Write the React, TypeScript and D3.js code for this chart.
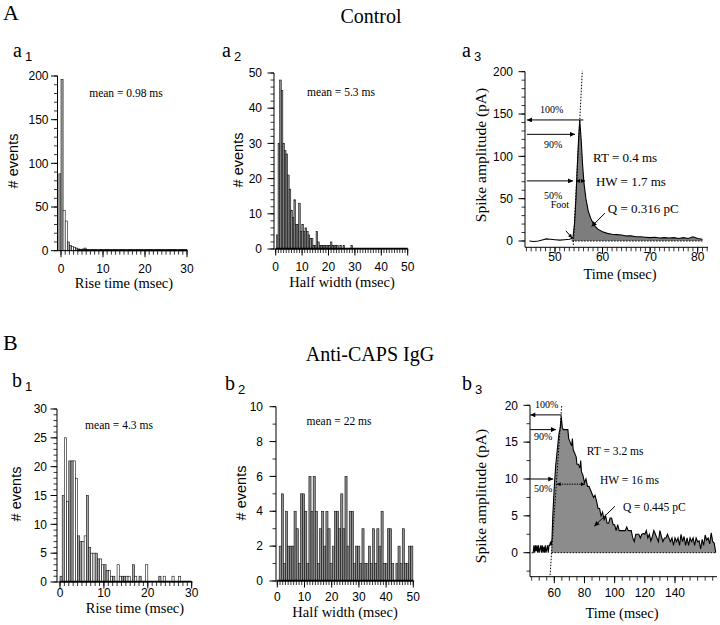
import React, { useEffect } from "react";
import * as d3 from "d3";

const SERIF = "'Liberation Serif', 'Times New Roman', serif";
const SANS = "'Liberation Sans', Arial, sans-serif";

// ---------- a1: rise time histogram (control) ----------
const A1_BIN_START = -0.5;
const A1_BIN_WIDTH = 0.5;
const A1_COUNTS = [88, 196, 46, 34, 10, 6, 5, 4, 3, 2, 1, 2, 3, 1, 1, 0, 1, 1, 0, 1, 1, 0, 1, 1, 1, 0, 1, 1, 0, 1, 1, 1, 0, 1, 1, 1, 0, 1, 1, 1, 0, 1, 1, 1, 1, 0, 1, 1, 1, 1, 0, 1, 1, 1, 1, 1, 0, 1, 1, 1, 1];
const A1_YTICKS = [0, 50, 100, 150, 200];
const A1_XTICKS = [0, 10, 20, 30];

// ---------- a2: half width histogram (control) ----------
const A2_BIN_START = 0.3;
const A2_BIN_WIDTH = 0.6;
const A2_COUNTS = [4, 30, 48, 45, 30, 28, 27, 21, 17, 11, 9, 14, 7, 7, 13, 5, 7, 5, 6, 5, 4, 3, 3, 1, 1, 5, 2, 1, 1, 1, 1, 1, 1, 1, 2, 1, 1, 1, 1, 0, 1, 0, 1, 0, 0, 0, 0, 1];
const A2_YTICKS = [0, 10, 20, 30, 40, 50];
const A2_XTICKS = [0, 10, 20, 30, 40, 50];

// ---------- a3: control spike ----------
const A3_T = [44.6, 45.5, 46.5, 47.5, 48.2, 49, 50, 51, 52, 53, 53.5, 53.8, 54.1, 54.4, 54.7, 55.0, 55.2, 55.5, 55.8, 56.1, 56.5, 57, 57.5, 58, 58.5, 59, 60, 61, 62, 63, 64, 65, 66, 67, 68, 69, 70, 71, 72, 73, 74, 75, 76, 77, 78, 79, 80, 81];
const A3_V = [0, -0.5, 0, 1.5, 2.5, 2, 1.5, 1, 1.5, 2, 3, 5, 20, 50, 90, 125, 143, 120, 90, 68, 50, 35, 27, 21, 17, 14, 11, 9, 8, 7.5, 7, 6, 6, 5, 5, 4.5, 4, 4.5, 3.5, 4, 3.5, 4, 3, 4, 3, 5, 3, 2];
const A3_YTICKS = [0, 50, 100, 150, 200];
const A3_XTICKS = [50, 60, 70, 80];

// ---------- b1: rise time histogram (anti-CAPS) ----------
const B1_BIN_START = 0;
const B1_BIN_WIDTH = 0.5;
const B1_COUNTS = [1, 15, 25, 14, 21, 21, 21, 18, 8, 7, 7, 8, 15, 6, 5, 5, 5, 4, 4, 3, 3, 2, 2, 1, 1, 0, 3, 1, 1, 1, 1, 1, 0, 3, 1, 0, 1, 0, 0, 3, 0, 0, 0, 0, 0, 1, 0, 1, 0, 0, 0, 1, 0, 0, 1, 0, 0, 0, 0, 0];
const B1_YTICKS = [0, 5, 10, 15, 20, 25, 30];
const B1_XTICKS = [0, 10, 20, 30];

// ---------- b2: half width histogram (anti-CAPS) ----------
const B2_BIN_START = 0.7;
const B2_BIN_WIDTH = 0.78;
const B2_COUNTS = [2, 5, 1, 4, 2, 2, 2, 4, 3, 1, 5, 5, 4, 1, 6, 4, 6, 4, 1, 3, 4, 2, 4, 3, 1, 2, 4, 4, 3, 5, 3, 6, 2, 4, 4, 1, 2, 2, 1, 3, 1, 1, 2, 1, 3, 1, 3, 2, 4, 1, 1, 3, 3, 1, 0, 1, 2, 1, 3, 1, 1, 2, 2];
const B2_YTICKS = [0, 2, 4, 6, 8, 10];
const B2_XTICKS = [0, 10, 20, 30, 40, 50];

// ---------- b3: anti-CAPS spike ----------
const B3_T = [45, 46, 46.5, 47, 47.5, 48, 48.5, 49, 49.5, 50, 50.5, 51, 51.5, 52, 52.5, 53, 53.5, 54, 54.5, 55, 55.5, 56, 56.5, 57, 57.5, 58, 58.5, 59, 60, 61, 62, 63, 64, 64.6, 65.3, 66, 67, 68, 69, 69.5, 70.5, 71.5, 72, 72.5, 73.5, 74.5, 75, 76, 77, 77.5, 78, 79, 80, 81, 82, 83, 84, 85, 86, 87, 88, 89, 90, 91, 92, 93, 94, 95, 96, 97, 98, 99, 100, 101, 102, 103, 104, 105, 106, 107, 108, 109, 110, 111, 112, 113, 114, 115, 116, 117, 118, 119, 120, 121, 122, 123, 124, 125, 126, 127, 128, 129, 130, 131, 132, 133, 134, 135, 136, 137, 138, 139, 140, 141, 142, 143, 144, 145, 146, 147, 148, 149, 150, 151, 152, 153, 154, 155, 156, 157, 158, 159, 160, 161, 162, 163, 164, 165, 166, 167];
const B3_V = [0, 0, 1, 0, 1, 0.2, 1, 0, 1, 0, 0.5, 1, 0, 1, 0, 0.8, 0, 1, 0, 0.5, 1, 0, 1, 1, 1.5, 1, 2, 5, 9, 12, 14, 16, 17, 18.5, 17, 16.7, 16.7, 16.7, 16.7, 15.5, 15, 14.5, 15.5, 14, 13.5, 13, 12, 12, 11.5, 12.5, 11, 10.5, 9.5, 10, 9, 9, 8.5, 8, 7.5, 7.8, 7, 6, 6, 5, 5.5, 4.5, 5, 4, 4, 4.7, 4.7, 3.8, 3.8, 3, 3.8, 3, 3, 3, 3, 3, 3.5, 3, 3, 3, 2, 1.5, 2.5, 2.5, 2.5, 2, 2.5, 2.6, 2.5, 3, 2, 2.5, 1.6, 2.2, 3, 2.5, 2, 1.5, 3, 2.2, 1.5, 2, 2, 2.5, 2, 1.5, 2, 1, 2, 1.5, 2, 1, 2.5, 1.5, 2.2, 1, 2, 1, 2, 1.5, 2, 1, 2, 1.5, 1.6, 0.5, 1.8, 1, 2.4, 1.7, 2, 1.2, 2.7, 1.5, 1.3, 0];
const B3_YTICKS = [0, 5, 10, 15, 20];
const B3_XTICKS = [60, 80, 100, 120, 140];

type Lin = d3.ScaleLinear<number, number>;

function YAxis({ s, x, top, bottom, major, minorStep, minorFrom, minorTo, gap }: any) {
  const minors = d3.range(minorFrom, minorTo + 1e-6, minorStep);
  return (
    <g>
      <line x1={x} x2={x} y1={top} y2={bottom} stroke="#000" strokeWidth={1} />
      {minors.map((v: number, i: number) => (
        <line key={"m" + i} x1={x - 3.5} x2={x} y1={s(v)} y2={s(v)} stroke="#000" strokeWidth={0.8} />
      ))}
      {major.map((v: number, i: number) => (
        <g key={"M" + i}>
          <line x1={x - 6.5} x2={x} y1={s(v)} y2={s(v)} stroke="#000" strokeWidth={1} />
          <text x={x - gap} y={s(v)} dy="0.35em" textAnchor="end" fontFamily={SANS} fontSize={12}>{v}</text>
        </g>
      ))}
    </g>
  );
}

function XAxis({ s, y, left, right, major, minorStep, minorFrom, minorTo, off }: any) {
  const minors = d3.range(minorFrom, minorTo + 1e-6, minorStep);
  return (
    <g>
      <line x1={left} x2={right} y1={y} y2={y} stroke="#000" strokeWidth={1} />
      {minors.map((v: number, i: number) => (
        <line key={"m" + i} x1={s(v)} x2={s(v)} y1={y} y2={y + 4} stroke="#000" strokeWidth={0.8} />
      ))}
      {major.map((v: number, i: number) => (
        <g key={"M" + i}>
          <line x1={s(v)} x2={s(v)} y1={y} y2={y + 6.5} stroke="#000" strokeWidth={1} />
          <text x={s(v)} y={y + off} textAnchor="middle" fontFamily={SANS} fontSize={12}>{v}</text>
        </g>
      ))}
    </g>
  );
}

function Hist({ xs, ys, start, width, counts, fill }: any) {
  return (
    <g>
      {counts.map((c: number, i: number) => {
        const x0 = xs(start + i * width);
        const x1 = xs(start + (i + 1) * width);
        return (
          <rect key={i} x={x0} y={ys(c)} width={x1 - x0} height={ys(0) - ys(c)}
            fill={fill(i)} stroke="#111" strokeWidth={0.6} />
        );
      })}
    </g>
  );
}

function YLabel({ x, y, text, font, size }: any) {
  return (
    <text transform={`translate(${x},${y}) rotate(-90)`} textAnchor="middle" dy="0.35em" fontFamily={font} fontSize={size}>{text}</text>
  );
}

function PanelTag({ x, y, letter, sub }: any) {
  return (
    <text x={x} y={y} fontFamily={SERIF} fontSize={20}>
      {letter}
      <tspan dx={3} dy={4} fontFamily={SANS} fontSize={13}>{sub}</tspan>
    </text>
  );
}

export default function App() {
  useEffect(() => {
    document.body.style.margin = "0";
  }, []);

  // scales
  const a1x: Lin = d3.scaleLinear().domain([0, 30]).range([61, 187]);
  const a1y: Lin = d3.scaleLinear().domain([0, 200]).range([250.7, 76]);
  const a2x: Lin = d3.scaleLinear().domain([0, 50]).range([275.7, 407.7]);
  const a2y: Lin = d3.scaleLinear().domain([0, 50]).range([249, 73]);
  const a3x: Lin = d3.scaleLinear().domain([50, 80]).range([555, 697.7]);
  const a3y: Lin = d3.scaleLinear().domain([0, 200]).range([241, 71.7]);
  const b1x: Lin = d3.scaleLinear().domain([0, 30]).range([60, 191.7]);
  const b1y: Lin = d3.scaleLinear().domain([0, 30]).range([582, 409]);
  const b2x: Lin = d3.scaleLinear().domain([0, 50]).range([277.3, 413.3]);
  const b2y: Lin = d3.scaleLinear().domain([0, 10]).range([581, 406.7]);
  const b3x: Lin = d3.scaleLinear().domain([60, 140]).range([554.3, 675]);
  const b3y: Lin = d3.scaleLinear().domain([0, 20]).range([552.7, 405.3]);

  const altFill = (i: number) => (Math.floor(i / 2) % 2 === 0 ? "#a8a8a8" : "#ffffff");
  const grayFill = () => "#8f8f8f";

  const a3pts = A3_T.map((t, i) => [t, A3_V[i]] as [number, number]);
  const b3pts = B3_T.map((t, i) => [t, B3_V[i]] as [number, number]);
  const a3line = d3.line<[number, number]>().x(d => a3x(d[0])).y(d => a3y(d[1]));
  const a3area = d3.area<[number, number]>().x(d => a3x(d[0])).y0(a3y(0)).y1(d => a3y(d[1]));
  const b3line = d3.line<[number, number]>().x(d => b3x(d[0])).y(d => b3y(d[1]));
  const b3area = d3.area<[number, number]>().x(d => b3x(d[0])).y0(b3y(0)).y1(d => b3y(d[1]));

  const arrow = (x1: number, y1: number, x2: number, y2: number, key: string, w = 1) => (
    <line key={key} x1={x1} y1={y1} x2={x2} y2={y2} stroke="#000" strokeWidth={w} markerEnd="url(#ah)" />
  );

  return (
    <svg width={720} height={625} style={{ display: "block", background: "#fff" }}>
      <defs>
        <marker id="ah" viewBox="0 0 10 10" refX="10" refY="5" markerWidth="10" markerHeight="5" markerUnits="userSpaceOnUse" orient="auto">
          <path d="M0,0 L10,5 L0,10 z" fill="#000" />
        </marker>
        <marker id="ahs" viewBox="0 0 10 10" refX="10" refY="5" markerWidth="6" markerHeight="4" markerUnits="userSpaceOnUse" orient="auto-start-reverse">
          <path d="M0,0 L10,5 L0,10 z" fill="#000" />
        </marker>
      </defs>

      {/* Section titles */}
      <text x={3} y={20} fontFamily={SERIF} fontSize={22}>A</text>
      <text x={371} y={23} textAnchor="middle" fontFamily={SERIF} fontSize={20}>Control</text>
      <text x={3} y={350} fontFamily={SERIF} fontSize={22}>B</text>
      <text x={370} y={361} textAnchor="middle" fontFamily={SERIF} fontSize={20}>Anti-CAPS IgG</text>

      {/* ---------- a1 ---------- */}
      <PanelTag x={13} y={57} letter="a" sub="1" />
      <Hist xs={a1x} ys={a1y} start={A1_BIN_START} width={A1_BIN_WIDTH} counts={A1_COUNTS} fill={altFill} />
      <line x1={a1x(4)} x2={a1x(30)} y1={a1y(0) - 0.5} y2={a1y(0) - 0.5} stroke="#000" strokeWidth={2} />
      <YAxis s={a1y} x={57.5} top={a1y(200)} bottom={a1y(0)} major={A1_YTICKS} minorStep={10} minorFrom={0} minorTo={200} gap={9} />
      <XAxis s={a1x} y={a1y(0)} left={57.5} right={a1x(30.2)} major={A1_XTICKS} minorStep={1} minorFrom={0} minorTo={30} off={22} />
      <YLabel x={13} y={161} text="# events" font={SANS} size={14.5} />
      <text x={124} y={288} textAnchor="middle" fontFamily={SERIF} fontSize={14.5}>Rise time (msec)</text>
      <text x={126} y={97} textAnchor="middle" fontFamily={SERIF} fontSize={11.5}>mean = 0.98 ms</text>

      {/* ---------- a2 ---------- */}
      <PanelTag x={222} y={57} letter="a" sub="2" />
      <Hist xs={a2x} ys={a2y} start={A2_BIN_START} width={A2_BIN_WIDTH} counts={A2_COUNTS} fill={grayFill} />
      <line x1={a2x(0)} x2={a2x(50)} y1={a2y(0) - 0.5} y2={a2y(0) - 0.5} stroke="#000" strokeWidth={1.5} />
      <YAxis s={a2y} x={274} top={a2y(50)} bottom={a2y(0)} major={A2_YTICKS} minorStep={2} minorFrom={0} minorTo={50} gap={12} />
      <XAxis s={a2x} y={a2y(0)} left={274} right={a2x(50.2)} major={A2_XTICKS} minorStep={1} minorFrom={0} minorTo={50} off={22} />
      <YLabel x={238} y={160} text="# events" font={SANS} size={14.5} />
      <text x={342} y={287} textAnchor="middle" fontFamily={SERIF} fontSize={14.5}>Half width (msec)</text>
      <text x={341} y={96} textAnchor="middle" fontFamily={SERIF} fontSize={11.5}>mean = 5.3 ms</text>

      {/* ---------- a3 ---------- */}
      <PanelTag x={462} y={57} letter="a" sub="3" />
      <path d={a3area(a3pts.filter(p => p[0] >= 53.5)) || ""} fill="#7d7d7d" />
      <path d={a3line(a3pts) || ""} fill="none" stroke="#000" strokeWidth={1.1} />
      <line x1={a3x(53.85)} y1={a3y(-4.7)} x2={a3x(55.74)} y2={a3y(201)} stroke="#000" strokeWidth={1} strokeDasharray="1.5,1.5" />
      <line x1={a3x(53.6)} y1={a3y(0)} x2={a3x(81)} y2={a3y(0)} stroke="#000" strokeWidth={1} strokeDasharray="1.5,1.5" />
      <YAxis s={a3y} x={525} top={a3y(200)} bottom={247.3} major={A3_YTICKS} minorStep={10} minorFrom={0} minorTo={200} gap={12} />
      <XAxis s={a3x} y={247.3} left={525} right={708} major={A3_XTICKS} minorStep={1} minorFrom={44} minorTo={82} off={14} />
      <YLabel x={481} y={155} text="Spike amplitude (pA)" font={SERIF} size={15.5} />
      <text x={620} y={279} textAnchor="middle" fontFamily={SERIF} fontSize={14.5}>Time (msec)</text>
      {arrow(a3x(55.95), a3y(143), a3x(44.1), a3y(143), "a100")}
      {arrow(a3x(44.1), a3y(126), a3x(54.2), a3y(126), "a90")}
      {arrow(a3x(44.1), a3y(71), a3x(53.8), a3y(71), "a50")}
      <line x1={a3x(54.4)} y1={a3y(71)} x2={a3x(56.3)} y2={a3y(71)} stroke="#000" strokeWidth={1} strokeDasharray="1.5,1" markerStart="url(#ahs)" markerEnd="url(#ahs)" />
      <text x={a3x(49.3)} y={a3y(151)} textAnchor="middle" fontFamily={SERIF} fontSize={10}>100%</text>
      <text x={a3x(49.6)} y={a3y(110)} textAnchor="middle" fontFamily={SERIF} fontSize={10}>90%</text>
      <text x={a3x(49.6)} y={a3y(50)} textAnchor="middle" fontFamily={SERIF} fontSize={10}>50%</text>
      <text x={a3x(58.0)} y={a3y(93)} fontFamily={SERIF} fontSize={13}>RT = 0.4 ms</text>
      <text x={a3x(58.6)} y={a3y(65)} fontFamily={SERIF} fontSize={13}>HW = 1.7 ms</text>
      <text x={a3x(61.1)} y={a3y(33)} fontFamily={SERIF} fontSize={13}>Q = 0.316 pC</text>
      {arrow(a3x(60.5), a3y(33), a3x(57.7), a3y(17), "aq")}
      <text x={a3x(51.05)} y={a3y(39)} textAnchor="middle" fontFamily={SERIF} fontSize={10}>Foot</text>
      <line x1={a3x(52.3)} y1={a3y(12)} x2={a3x(53.6)} y2={a3y(3.5)} stroke="#000" strokeWidth={1} markerEnd="url(#ahs)" />

      {/* ---------- b1 ---------- */}
      <PanelTag x={12} y={387} letter="b" sub="1" />
      <Hist xs={b1x} ys={b1y} start={B1_BIN_START} width={B1_BIN_WIDTH} counts={B1_COUNTS} fill={altFill} />
      <line x1={b1x(0)} x2={b1x(30)} y1={b1y(0) - 0.5} y2={b1y(0) - 0.5} stroke="#000" strokeWidth={1.5} />
      <YAxis s={b1y} x={57} top={b1y(30)} bottom={b1y(0)} major={B1_YTICKS} minorStep={1} minorFrom={0} minorTo={30} gap={10} />
      <XAxis s={b1x} y={b1y(0)} left={57} right={b1x(30.2)} major={B1_XTICKS} minorStep={1} minorFrom={0} minorTo={30} off={15} />
      <YLabel x={16} y={494} text="# events" font={SANS} size={14.5} />
      <text x={135} y={613} textAnchor="middle" fontFamily={SERIF} fontSize={14.5}>Rise time (msec)</text>
      <text x={119} y={429} textAnchor="middle" fontFamily={SERIF} fontSize={11.5}>mean = 4.3 ms</text>

      {/* ---------- b2 ---------- */}
      <PanelTag x={225} y={390} letter="b" sub="2" />
      <Hist xs={b2x} ys={b2y} start={B2_BIN_START} width={B2_BIN_WIDTH} counts={B2_COUNTS} fill={grayFill} />
      <line x1={b2x(0)} x2={b2x(50)} y1={b2y(0) - 0.5} y2={b2y(0) - 0.5} stroke="#000" strokeWidth={1.5} />
      <YAxis s={b2y} x={276} top={b2y(10)} bottom={b2y(0)} major={B2_YTICKS} minorStep={1} minorFrom={0} minorTo={10} gap={13} />
      <XAxis s={b2x} y={b2y(0)} left={276} right={b2x(50.3)} major={B2_XTICKS} minorStep={1} minorFrom={0} minorTo={50} off={20} />
      <YLabel x={241} y={493} text="# events" font={SANS} size={14.5} />
      <text x={345} y={617} textAnchor="middle" fontFamily={SERIF} fontSize={14.5}>Half width (msec)</text>
      <text x={339} y={425} textAnchor="middle" fontFamily={SERIF} fontSize={11.5}>mean = 22 ms</text>

      {/* ---------- b3 ---------- */}
      <PanelTag x={462} y={390} letter="b" sub="3" />
      <path d={b3area(b3pts.filter(p => p[0] >= 58)) || ""} fill="#8c8c8c" />
      <path d={b3line(b3pts) || ""} fill="none" stroke="#000" strokeWidth={1.1} />
      <line x1={b3x(57.2)} y1={b3y(-3.05)} x2={b3x(64.9)} y2={b3y(20)} stroke="#000" strokeWidth={1} strokeDasharray="1.5,1.5" />
      <line x1={b3x(58.2)} y1={b3y(0)} x2={b3x(167)} y2={b3y(0)} stroke="#000" strokeWidth={1} strokeDasharray="1.5,1.5" />
      <YAxis s={b3y} x={530} top={b3y(20)} bottom={576.7} major={B3_YTICKS} minorStep={2.5} minorFrom={-2.5} minorTo={20} gap={12} />
      <XAxis s={b3x} y={576.7} left={530} right={717} major={B3_XTICKS} minorStep={5} minorFrom={45} minorTo={165} off={20} />
      <YLabel x={481} y={496} text="Spike amplitude (pA)" font={SERIF} size={15.5} />
      <text x={622} y={618} textAnchor="middle" fontFamily={SERIF} fontSize={14.5}>Time (msec)</text>
      {arrow(b3x(64.9), b3y(18.7), b3x(44.1), b3y(18.7), "b100")}
      {arrow(b3x(44.1), b3y(16.7), b3x(61.1), b3y(16.7), "b90")}
      {arrow(b3x(44.1), b3y(10), b3x(59.3), b3y(10), "b50")}
      <line x1={b3x(61.6)} y1={b3y(9.3)} x2={b3x(80.3)} y2={b3y(9.3)} stroke="#000" strokeWidth={1} strokeDasharray="1.5,1" markerStart="url(#ahs)" markerEnd="url(#ahs)" />
      <text x={b3x(55)} y={b3y(19.6)} textAnchor="middle" fontFamily={SERIF} fontSize={10}>100%</text>
      <text x={b3x(52.7)} y={b3y(15.3)} textAnchor="middle" fontFamily={SERIF} fontSize={10}>90%</text>
      <text x={b3x(52.7)} y={b3y(8.3)} textAnchor="middle" fontFamily={SERIF} fontSize={10}>50%</text>
      <text x={b3x(81.5)} y={b3y(13.2)} fontFamily={SERIF} fontSize={11.5}>RT = 3.2 ms</text>
      <text x={b3x(90.3)} y={b3y(9.3)} fontFamily={SERIF} fontSize={11.5}>HW = 16 ms</text>
      <text x={b3x(105.5)} y={b3y(5.7)} fontFamily={SERIF} fontSize={11.5}>Q = 0.445 pC</text>
      {arrow(b3x(100.2), b3y(6.3), b3x(86.5), b3y(3.6), "bq")}
    </svg>
  );
}
